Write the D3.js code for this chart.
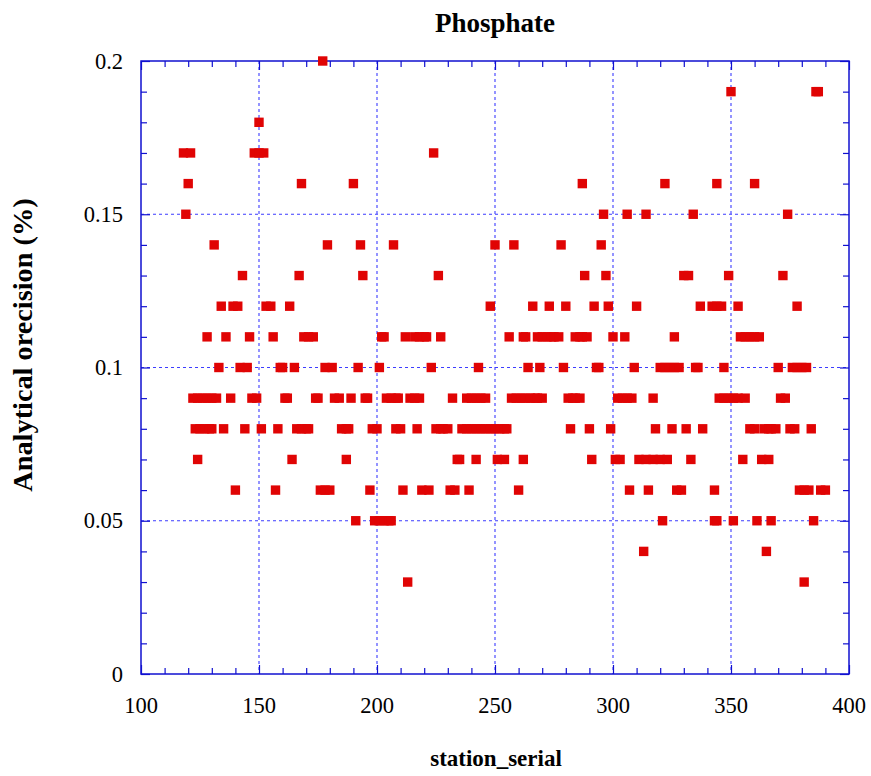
<!DOCTYPE html>
<html>
<head>
<meta charset="utf-8">
<script src="https://cdn.jsdelivr.net/npm/d3@7"></script>
<style>
  html, body { margin: 0; padding: 0; background: #ffffff; }
  svg { display: block; }
  text { font-family: "Liberation Serif", "Times New Roman", serif; fill: #000; }
</style>
</head>
<body>
<svg id="chart" width="871" height="776"></svg>
<script>
// Analytical precision of phosphate, grouped by precision level:
// each entry of stationsAtLevel lists the station serials reported at that level.
const precisionLevels = [0.20, 0.19, 0.18, 0.17, 0.16, 0.15, 0.14, 0.13, 0.12, 0.11,
                         0.10, 0.09, 0.08, 0.07, 0.06, 0.05, 0.04, 0.03];

const stationsAt020 = [177];
const stationsAt019 = [350, 386, 387];
const stationsAt018 = [150];
const stationsAt017 = [118, 121, 148, 150, 152, 224];
const stationsAt016 = [120, 168, 190, 287, 322, 344, 360];
const stationsAt015 = [119, 296, 306, 314, 334, 374];
const stationsAt014 = [131, 179, 193, 207, 250, 258, 278, 295];
const stationsAt013 = [143, 167, 194, 226, 288, 297, 330, 332, 349, 372];
const stationsAt012 = [134, 139, 141, 153, 155, 163, 248, 266, 273, 280, 292, 298, 310,
                       337, 342, 344, 346, 353, 378];
const stationsAt011 = [128, 136, 146, 156, 169, 171, 173, 202, 203, 212, 216, 218, 220, 221,
                       227, 256, 262, 263, 268, 270, 272, 274, 275, 277, 284, 286, 287, 289,
                       300, 305, 326, 354, 356, 358, 360, 362];
const stationsAt010 = [133, 142, 145, 159, 160, 165, 178, 181, 192, 201, 223, 243, 264, 269,
                       279, 293, 294, 309, 320, 322, 324, 326, 328, 335, 336, 347, 370, 376,
                       378, 380, 382];
const stationsAt009 = [122, 124, 126, 128, 130, 132, 138, 147, 149, 161, 162, 174, 175, 182,
                       184, 189, 195, 196, 204, 206, 208, 209, 214, 216, 218, 232, 238, 240,
                       242, 244, 246, 257, 259, 261, 263, 265, 267, 268, 270, 281, 283, 284,
                       286, 302, 304, 306, 308, 317, 345, 347, 349, 351, 353, 356, 371, 373];
const stationsAt008 = [123, 125, 127, 129, 130, 135, 144, 151, 158, 166, 168, 170, 171, 185,
                       187, 188, 198, 200, 208, 210, 217, 225, 227, 228, 230, 236, 238, 240,
                       242, 244, 246, 248, 250, 252, 254, 255, 282, 290, 299, 318, 325, 331,
                       338, 358, 360, 364, 366, 367, 369, 375, 377, 384];
const stationsAt007 = [124, 164, 187, 234, 235, 242, 251, 254, 262, 291, 301, 303, 311, 314,
                       317, 320, 323, 333, 355, 363, 366];
const stationsAt006 = [140, 157, 176, 178, 180, 197, 211, 219, 222, 231, 233, 239, 260, 307,
                       315, 327, 329, 343, 379, 381, 383, 388, 390];
const stationsAt005 = [191, 199, 201, 203, 205, 206, 321, 343, 344, 351, 361, 367, 385];
const stationsAt004 = [313, 365];
const stationsAt003 = [213, 381];

const stationsAtLevel = [stationsAt020, stationsAt019, stationsAt018, stationsAt017,
  stationsAt016, stationsAt015, stationsAt014, stationsAt013, stationsAt012, stationsAt011,
  stationsAt010, stationsAt009, stationsAt008, stationsAt007, stationsAt006, stationsAt005,
  stationsAt004, stationsAt003];

const xMajorTicks = [100, 150, 200, 250, 300, 350, 400];
const yMajorTicks = [0, 0.05, 0.1, 0.15, 0.2];
const xTickLabels = ["100", "150", "200", "250", "300", "350", "400"];
const yTickLabels = ["0", "0.05", "0.1", "0.15", "0.2"];

const titleText = "Phosphate";
const xTitle = "station_serial";
const yTitle = "Analytical orecision (%)";

// Flatten into point records
const points = [];
precisionLevels.forEach((v, i) => {
  stationsAtLevel[i].forEach(s => points.push({ station: s, value: v }));
});

// Layout
const plot = { left: 141, top: 61, right: 849, bottom: 674 };
const axisBlue = "#1010d0";
const gridBlue = "#3d3dff";
const markRed = "#e00404";
const markSize = 9.4;

const svg = d3.select("#chart");

const x = d3.scaleLinear().domain([100, 400]).range([plot.left, plot.right]);
const y = d3.scaleLinear().domain([0, 0.2]).range([plot.bottom, plot.top]);

const xMinor = d3.range(100, 401, 10).filter(v => v % 50 !== 0);
const yMinor = d3.range(0, 21, 1).map(v => v / 100).filter((v, i) => i % 5 !== 0);

// Dashed grid at major ticks
const grid = svg.append("g").attr("stroke", gridBlue).attr("stroke-width", 1.1)
  .attr("stroke-dasharray", "3,3");
grid.selectAll("line.vx").data(xMajorTicks.slice(1, -1)).join("line")
  .attr("x1", d => x(d)).attr("x2", d => x(d))
  .attr("y1", plot.top).attr("y2", plot.bottom);
grid.selectAll("line.hy").data(yMajorTicks.slice(1, -1)).join("line")
  .attr("x1", plot.left).attr("x2", plot.right)
  .attr("y1", d => y(d)).attr("y2", d => y(d));

// Tick marks on all four sides, pointing inward
function styleTicks(g) {
  g.select(".domain").remove();
  g.selectAll(".tick line").attr("stroke", axisBlue).attr("stroke-width", 1.2);
  g.selectAll(".tick text").remove();
}
const minorLen = -6, majorLen = -9;
svg.append("g").attr("transform", `translate(0,${plot.bottom})`)
  .call(d3.axisBottom(x).tickValues(xMinor).tickSize(minorLen)).call(styleTicks);
svg.append("g").attr("transform", `translate(0,${plot.bottom})`)
  .call(d3.axisBottom(x).tickValues(xMajorTicks).tickSize(majorLen)).call(styleTicks);
svg.append("g").attr("transform", `translate(0,${plot.top})`)
  .call(d3.axisTop(x).tickValues(xMinor).tickSize(minorLen)).call(styleTicks);
svg.append("g").attr("transform", `translate(0,${plot.top})`)
  .call(d3.axisTop(x).tickValues(xMajorTicks).tickSize(majorLen)).call(styleTicks);
svg.append("g").attr("transform", `translate(${plot.left},0)`)
  .call(d3.axisLeft(y).tickValues(yMinor).tickSize(minorLen)).call(styleTicks);
svg.append("g").attr("transform", `translate(${plot.left},0)`)
  .call(d3.axisLeft(y).tickValues(yMajorTicks).tickSize(majorLen)).call(styleTicks);
svg.append("g").attr("transform", `translate(${plot.right},0)`)
  .call(d3.axisRight(y).tickValues(yMinor).tickSize(minorLen)).call(styleTicks);
svg.append("g").attr("transform", `translate(${plot.right},0)`)
  .call(d3.axisRight(y).tickValues(yMajorTicks).tickSize(majorLen)).call(styleTicks);

// Frame
svg.append("rect")
  .attr("x", plot.left).attr("y", plot.top)
  .attr("width", plot.right - plot.left).attr("height", plot.bottom - plot.top)
  .attr("fill", "none").attr("stroke", axisBlue).attr("stroke-width", 1.5);

// Tick labels
svg.append("g").selectAll("text").data(xMajorTicks).join("text")
  .attr("x", d => x(d)).attr("y", 712.5)
  .attr("text-anchor", "middle").attr("font-size", 22.5)
  .text((d, i) => xTickLabels[i]);
svg.append("g").selectAll("text").data(yMajorTicks).join("text")
  .attr("x", 123).attr("y", d => y(d) + 7.5)
  .attr("text-anchor", "end").attr("font-size", 22.5)
  .text((d, i) => yTickLabels[i]);

// Markers
svg.append("g").selectAll("rect").data(points).join("rect")
  .attr("x", d => x(d.station) - markSize / 2)
  .attr("y", d => y(d.value) - markSize / 2)
  .attr("width", markSize).attr("height", markSize)
  .attr("fill", markRed);

// Titles
svg.append("text").attr("x", 495).attr("y", 31.5)
  .attr("text-anchor", "middle").attr("font-size", 27).attr("font-weight", "bold")
  .text(titleText);
svg.append("text").attr("x", 496).attr("y", 766)
  .attr("text-anchor", "middle").attr("font-size", 23).attr("font-weight", "bold")
  .text(xTitle);
svg.append("text")
  .attr("transform", "translate(32,345) rotate(-90)")
  .attr("text-anchor", "middle").attr("font-size", 28.3).attr("font-weight", "bold")
  .text(yTitle);
</script>
</body>
</html>
